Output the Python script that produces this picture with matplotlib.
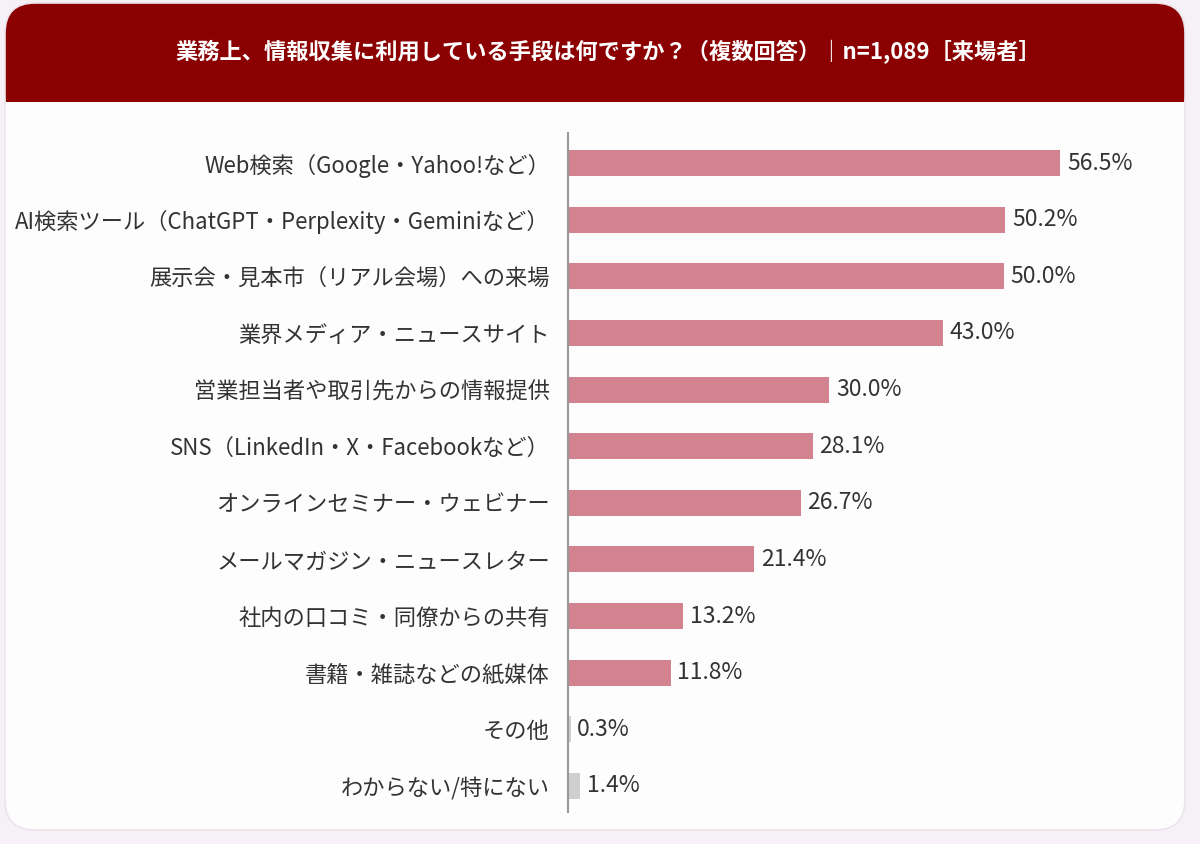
import matplotlib
matplotlib.use("Agg")
import matplotlib.pyplot as plt
from matplotlib.patches import FancyBboxPatch, Rectangle

plt.rcParams["font.family"] = ["Noto Sans CJK JP", "DejaVu Sans"]

TITLE = "業務上、情報収集に利用している手段は何ですか？（複数回答）｜n=1,089［来場者］"

categories = [
    "Web検索（Google・Yahoo!など）",
    "AI検索ツール（ChatGPT・Perplexity・Geminiなど）",
    "展示会・見本市（リアル会場）への来場",
    "業界メディア・ニュースサイト",
    "営業担当者や取引先からの情報提供",
    "SNS（LinkedIn・X・Facebookなど）",
    "オンラインセミナー・ウェビナー",
    "メールマガジン・ニュースレター",
    "社内の口コミ・同僚からの共有",
    "書籍・雑誌などの紙媒体",
    "その他",
    "わからない/特にない",
]
values = [56.5, 50.2, 50.0, 43.0, 30.0, 28.1, 26.7, 21.4, 13.2, 11.8, 0.3, 1.4]
bar_colors = ["#d3828f"] * 10 + ["#cfcfcf", "#cfcfcf"]

W, H = 1200, 844
fig = plt.figure(figsize=(W / 100, H / 100), dpi=100)
fig.patch.set_facecolor("#f6f1f6")

# ── card background + header ────────────────────────────────────────────────
bg = fig.add_axes([0, 0, 1, 1])
bg.set_xlim(0, W)
bg.set_ylim(H, 0)
bg.axis("off")
bg.set_zorder(0)

R = 30
card = FancyBboxPatch((5 + R, 3 + R), 1180 - 2 * R, 827 - 2 * R,
                      boxstyle=f"round,pad={R}", fc="#fefdfe", ec="none")
bg.add_patch(card)
head = FancyBboxPatch((5 + R, 3 + R), 1180 - 2 * R, 120 - 2 * R,
                      boxstyle=f"round,pad={R}", fc="#8b0000", ec="none")
bg.add_patch(head)
bg.add_patch(Rectangle((5, 102), 1180, 60, fc="#fefdfe", ec="none"))
edge = FancyBboxPatch((5 + R, 3 + R), 1180 - 2 * R, 827 - 2 * R,
                      boxstyle=f"round,pad={R}", fc="none", ec="#ece4ec", lw=1.2)
bg.add_patch(edge)
bg.text(608, 52, TITLE, color="white", fontsize=16, fontweight="bold",
        ha="center", va="center")

# ── bars ─────────────────────────────────────────────────────────────────────
ax = fig.add_axes([568 / W, 1 - 812 / H, (1178 - 568) / W, (812 - 133) / H])
ax.set_zorder(1)
ax.patch.set_alpha(0)
y = list(range(len(categories)))
ax.barh(y, values, height=0.46, color=bar_colors, zorder=2)
ax.set_xlim(0, 70)
ax.set_ylim(11.46, -0.53)

for yi, v in zip(y, values):
    ax.text(v + 0.75, yi, f"{v:.1f}%", va="center", ha="left",
            fontsize=16.5, color="#333333")

ax.set_yticks(y)
ax.set_yticklabels(categories, fontsize=16, color="#333333")
ax.tick_params(axis="y", length=0, pad=13)
ax.set_xticks([])
for s in ["top", "right", "bottom"]:
    ax.spines[s].set_visible(False)
ax.spines["left"].set_color("#999999")
ax.spines["left"].set_linewidth(1.5)

fig.savefig("out.png", dpi=100, facecolor=fig.get_facecolor())
